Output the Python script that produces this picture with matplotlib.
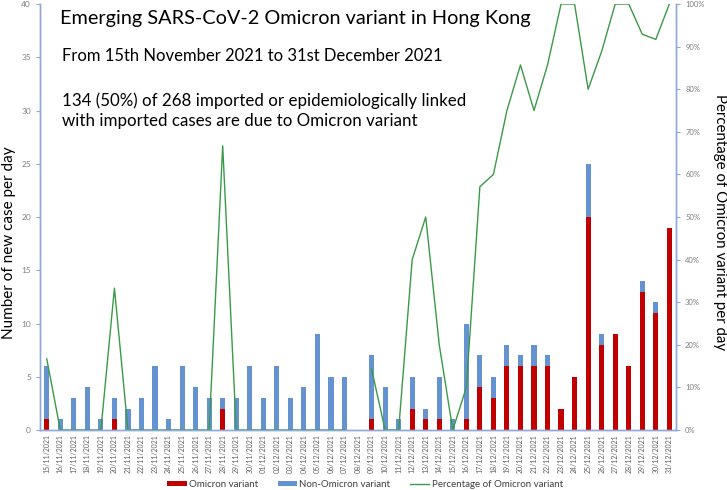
import numpy as np
import matplotlib.pyplot as plt
from matplotlib.ticker import PercentFormatter

plt.rcParams['font.family'] = ['Lato', 'DejaVu Sans']

# Data
dates = ['15/11/2021', '16/11/2021', '17/11/2021', '18/11/2021', '19/11/2021', '20/11/2021',
         '21/11/2021', '22/11/2021', '23/11/2021', '24/11/2021', '25/11/2021', '26/11/2021',
         '27/11/2021', '28/11/2021', '29/11/2021', '30/11/2021', '01/12/2021', '02/12/2021',
         '03/12/2021', '04/12/2021', '05/12/2021', '06/12/2021', '07/12/2021', '08/12/2021',
         '09/12/2021', '10/12/2021', '11/12/2021', '12/12/2021', '13/12/2021', '14/12/2021',
         '15/12/2021', '16/12/2021', '17/12/2021', '18/12/2021', '19/12/2021', '20/12/2021',
         '21/12/2021', '22/12/2021', '23/12/2021', '24/12/2021', '25/12/2021', '26/12/2021',
         '27/12/2021', '28/12/2021', '29/12/2021', '30/12/2021', '31/12/2021']
omicron = [1, 0, 0, 0, 0, 1, 0, 0, 0, 0, 0, 0, 0, 2, 0, 0,
           0, 0, 0, 0, 0, 0, 0, 0, 1, 0, 0, 2, 1, 1, 0, 1,
           4, 3, 6, 6, 6, 6, 2, 5, 20, 8, 9, 6, 13, 11, 19]
non_omicron = [5, 1, 3, 4, 1, 2, 2, 3, 6, 1, 6, 4, 3, 1, 3, 6,
               3, 6, 3, 4, 9, 5, 5, 0, 6, 4, 1, 3, 1, 4, 1, 9,
               3, 2, 2, 1, 2, 1, 0, 0, 5, 1, 0, 0, 1, 1, 0]
pct_omicron = [16.7, 0, 0, 0, 0, 33.3, 0, 0, 0, 0, 0, 0, 0, 66.7, 0, 0,
               0, 0, 0, 0, 0, 0, 0, np.nan, 14.3, 0, 0, 40.0, 50.0, 20.0, 0, 10.0,
               57.1, 60.0, 75.0, 85.7, 75.0, 85.7, 100, 100, 80.0, 88.9, 100, 100, 92.9, 91.7, 100]

red = '#C00000'
blue = '#6592D0'
green = '#3A9A48'
axis_col = '#8EA9D8'
grey = '#7F7F7F'

fig = plt.figure(figsize=(7.27, 4.9), dpi=100)
ax = fig.add_axes([0.055, 0.1224, 0.875, 0.8694])
x = np.arange(len(dates))

ax.bar(x, omicron, width=0.38, color=red, label='Omicron variant')
ax.bar(x, non_omicron, width=0.38, bottom=omicron, color=blue, label='Non-Omicron variant')
ax.set_ylim(0, 40)
ax.set_xlim(-0.5, len(dates) - 0.5)
ax.set_yticks(range(0, 41, 5))
ax.set_xticks(x)
ax.set_xticklabels(dates, rotation=90, fontsize=5, color='#606060')
ax.tick_params(axis='y', labelsize=6, colors=grey, length=3, color=axis_col)
ax.tick_params(axis='x', length=0, pad=3)
ax.set_ylabel('Number of new case per day', fontsize=11)
ax.yaxis.set_label_coords(-0.038, 0.44)

ax2 = ax.twinx()
ax2.plot(x, np.array(pct_omicron) / 100, color=green, lw=1, label='Percentage of Omicron variant')
ax2.set_ylim(0, 1)
ax2.set_yticks(np.arange(0, 1.01, 0.1))
ax2.yaxis.set_major_formatter(PercentFormatter(1.0, decimals=0))
ax2.tick_params(axis='y', labelsize=5.5, colors=grey, length=3, color=axis_col)
ax2.set_ylabel('Percentage of Omicron variant per day', fontsize=10.8, rotation=-90, va='bottom')
ax2.yaxis.set_label_coords(1.058, 0.488)

for a in (ax, ax2):
    a.spines['top'].set_visible(False)
    for s in ('left', 'right', 'bottom'):
        a.spines[s].set_color(axis_col)
        a.spines[s].set_linewidth(1)

ax.text(0.032, 0.985, 'Emerging SARS-CoV-2 Omicron variant in Hong Kong', transform=ax.transAxes,
        fontsize=14.3, va='top')
ax.text(0.034, 0.896, 'From 15th November 2021 to 31st December 2021', transform=ax.transAxes,
        fontsize=12, va='top')
ax.text(0.034, 0.792, '134 (50%) of 268 imported or epidemiologically linked\n'
        'with imported cases are due to Omicron variant', transform=ax.transAxes,
        fontsize=12.2, va='top', linespacing=1.28)

h1, l1 = ax.get_legend_handles_labels()
h2, l2 = ax2.get_legend_handles_labels()
fig.legend(h1 + h2, l1 + l2, loc='center', bbox_to_anchor=(0.502, 0.011), ncol=3,
           frameon=False, fontsize=7, columnspacing=2.0, handlelength=2.0, handleheight=0.45,
           handletextpad=0.25, labelcolor='#404040')

fig.savefig('out.png', dpi=100)
